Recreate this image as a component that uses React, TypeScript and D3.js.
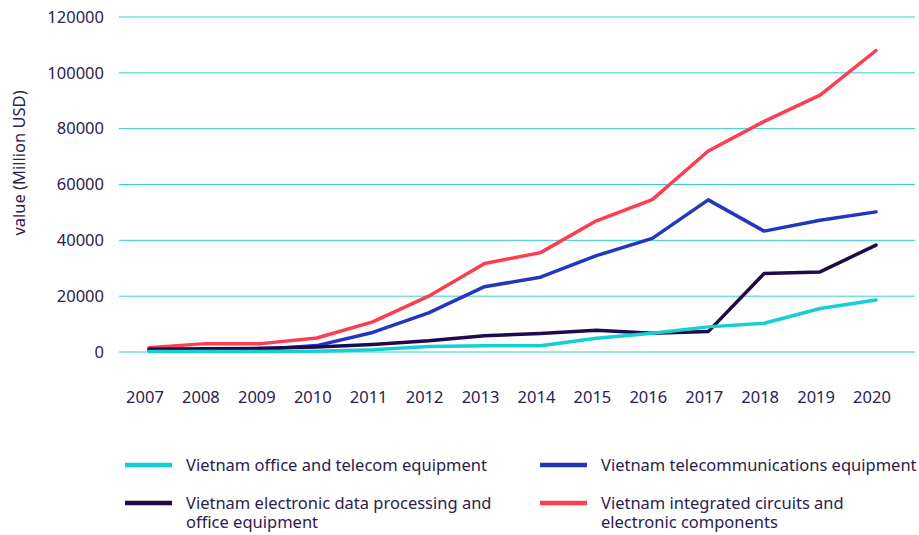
import React from "react";
import * as d3 from "d3";

const years = [2007, 2008, 2009, 2010, 2011, 2012, 2013, 2014, 2015, 2016, 2017, 2018, 2019, 2020];
const officeTelecom = [200, 200, 200, 300, 800, 2000, 2200, 2200, 4900, 6700, 9000, 10300, 15600, 18600];
const telecommunications = [500, 800, 900, 2300, 7000, 14000, 23400, 26800, 34500, 40700, 54500, 43300, 47200, 50200];
const dataProcessing = [1000, 1200, 1300, 1800, 2700, 4000, 5800, 6600, 7800, 6700, 7300, 28100, 28700, 38300];
const integratedCircuits = [1500, 3000, 3000, 5000, 10800, 20000, 31700, 35600, 47000, 54600, 72000, 82600, 92000, 108000];
const yTicks = [0, 20000, 40000, 60000, 80000, 100000, 120000];

const seriesNames = [
  "Vietnam office and telecom equipment",
  "Vietnam telecommunications equipment",
  "Vietnam electronic data processing and office equipment",
  "Vietnam integrated circuits and electronic components",
];

const W = 919, H = 535;
const FONT = "'Noto Sans', 'Open Sans', sans-serif";
const TEXT = "#2b2150";
const FS = 16.5;

export default function App() {
  const x = d3.scalePoint<number>().domain(years).range([149, 876]);
  const y = d3.scaleLinear().domain([0, 120000]).range([352, 17]);
  const line = d3.line<number>().x((_, i) => x(years[i])!).y((d) => y(d));

  const series = [
    { name: seriesNames[3], values: integratedCircuits, color: "#ff3d50" },
    { name: seriesNames[1], values: telecommunications, color: "#2236c2" },
    { name: seriesNames[2], values: dataProcessing, color: "#1f0a4c" },
    { name: seriesNames[0], values: officeTelecom, color: "#14d0d2" },
  ];

  const legend = [
    { lines: ["Vietnam office and telecom equipment"], color: "#14d0d2", lx: 125, ly: 465 },
    { lines: ["Vietnam telecommunications equipment"], color: "#2236c2", lx: 540, ly: 465 },
    { lines: ["Vietnam electronic data processing and", "office equipment"], color: "#1f0a4c", lx: 125, ly: 503 },
    { lines: ["Vietnam integrated circuits and", "electronic components"], color: "#ff3d50", lx: 540, ly: 503 },
  ];

  return (
    <svg width={W} height={H} style={{ position: "absolute", left: 0, top: 0, background: "#fff" }} fontFamily={FONT}>
      {yTicks.map((t) => (
        <g key={t}>
          <line x1={119} x2={915} y1={y(t)} y2={y(t)} stroke="#2fcfd4" strokeWidth={1} />
          <text x={104} y={y(t)} dy="0.35em" textAnchor="end" fontSize={FS} fill={TEXT}>{t}</text>
        </g>
      ))}
      <text transform={`translate(25,${163}) rotate(-90)`} textAnchor="middle" fontSize={FS} fill={TEXT}>value (Million USD)</text>
      {years.map((yr) => (
        <text key={yr} x={x(yr)! - 4} y={397} dy="0.35em" textAnchor="middle" fontSize={FS} fill={TEXT}>{yr}</text>
      ))}
      {series.map((s) => (
        <path key={s.name} d={line(s.values)!} fill="none" stroke={s.color} strokeWidth={3.5} strokeLinejoin="round" strokeLinecap="round" />
      ))}
      {legend.map((l) => (
        <g key={l.lines[0]}>
          <line x1={l.lx} x2={l.lx + 47} y1={l.ly} y2={l.ly} stroke={l.color} strokeWidth={4.5} />
          {l.lines.map((t, i) => (
            <text key={i} x={l.lx + 61} y={l.ly + i * 19} dy="0.35em" fontSize={FS} fill={TEXT}>{t}</text>
          ))}
        </g>
      ))}
    </svg>
  );
}
